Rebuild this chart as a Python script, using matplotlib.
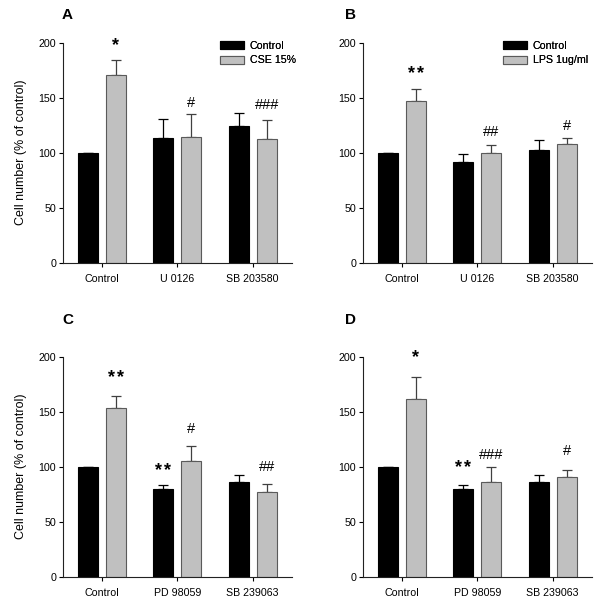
import matplotlib
matplotlib.use("Agg")
import matplotlib.pyplot as plt
import matplotlib.transforms as mtransforms
import numpy as np

plt.rcParams['font.family'] = ['Liberation Sans', 'DejaVu Sans']

# ---------------- data ----------------
groups_top = ["Control", "U 0126", "SB 203580"]
groups_bottom = ["Control", "PD 98059", "SB 239063"]

# Panel A (CSE 15%)
a_ctrl = [100, 113.5, 124.5]
a_ctrl_err = [0, 17, 12]
a_trt = [170.8, 114, 112.5]
a_trt_err = [13.5, 21, 17]
a_annot = [("*", 1, 0, 199), ("#", 1, 1, 145), ("###", 1, 2, 143)]

# Panel B (LPS 1ug/ml)
b_ctrl = [100, 92, 102.2]
b_ctrl_err = [0, 6.4, 9]
b_trt = [146.8, 99.8, 107.6]
b_trt_err = [11, 7.3, 6]
b_annot = [("**", 1, 0, 173), ("##", 1, 1, 119), ("#", 1, 2, 124.5)]

# Panel C (CSE 15%)
c_ctrl = [100, 80, 86.4]
c_ctrl_err = [0, 3, 5.8]
c_trt = [153.4, 105.2, 77.4]
c_trt_err = [11.2, 14, 7]
c_annot = [("**", 1, 0, 182), ("**", 0, 1, 97.6), ("#", 1, 1, 134), ("##", 1, 2, 100)]

# Panel D (LPS 1ug/ml)
d_ctrl = [100, 80, 86.4]
d_ctrl_err = [0, 3, 5.8]
d_trt = [161.5, 85.8, 90.7]
d_trt_err = [20.2, 14.3, 6]
d_annot = [("*", 1, 0, 200), ("**", 0, 1, 100), ("###", 1, 1, 110.3), ("#", 1, 2, 114)]

yticks = [0, 50, 100, 150, 200]
ylabel = "Cell number (% of control)"

panels = [
    ("A", groups_top, a_ctrl, a_ctrl_err, a_trt, a_trt_err, "CSE 15%", a_annot, True),
    ("B", groups_top, b_ctrl, b_ctrl_err, b_trt, b_trt_err, "LPS 1ug/ml", b_annot, False),
    ("C", groups_bottom, c_ctrl, c_ctrl_err, c_trt, c_trt_err, "CSE 15%", c_annot, True),
    ("D", groups_bottom, d_ctrl, d_ctrl_err, d_trt, d_trt_err, "LPS 1ug/ml", d_annot, False),
]

# ---------------- layout ----------------
W, H = 600, 609
fig = plt.figure(figsize=(W / 100, H / 100), dpi=100)

def fx(px):
    return px / W

def fy(py):
    return 1 - py / H

# pixel boxes: left, top(y=200), right, bottom(y=0)
boxes = [(63, 42.7, 292, 262.7), (363, 42.7, 592, 262.7),
         (63, 356.7, 292, 576.7), (363, 356.7, 592, 576.7)]

BLACK = "#000000"
GRAY = "#c0c0c0"
GRAY_EDGE = "#5a5a5a"
bw = 0.265
off = 0.1875
STAR_STEP = 9.3 * 72 / 100  # points between neighbouring stars

for (letter, cats, ctrl, ctrl_err, trt, trt_err, trt_label, annots, show_ylabel), (l, t, r, b) in zip(panels, boxes):
    ax = fig.add_axes([fx(l), fy(b), fx(r) - fx(l), fy(t) - fy(b)])
    x = np.arange(len(cats))
    ax.bar(x - off, ctrl, bw, color=BLACK, edgecolor=BLACK, linewidth=0.8, zorder=2)
    ax.bar(x + off, trt, bw, color=GRAY, edgecolor=GRAY_EDGE, linewidth=0.8, zorder=2)
    ax.errorbar(x - off, ctrl, yerr=[np.zeros(len(ctrl)), ctrl_err], fmt='none',
                ecolor=BLACK, elinewidth=0.9, capsize=3.4, capthick=0.9, zorder=1)
    ax.errorbar(x + off, trt, yerr=[np.zeros(len(trt)), trt_err], fmt='none',
                ecolor="#404040", elinewidth=0.9, capsize=3.4, capthick=0.9, zorder=1)
    ax.set_xlim(-0.513, 2.52)
    ax.set_ylim(0, 200)
    ax.set_yticks(yticks)
    ax.set_xticks(x)
    ax.set_xticklabels(cats, fontsize=7.7)
    ax.tick_params(axis='y', labelsize=7.7, length=3, width=0.8, direction='out', pad=2)
    ax.tick_params(axis='x', length=3, width=0.8, direction='out', pad=5)
    for s in ("top", "right"):
        ax.spines[s].set_visible(False)
    for s in ("left", "bottom"):
        ax.spines[s].set_linewidth(0.8)
        ax.spines[s].set_color("#222222")
    if show_ylabel:
        ax.set_ylabel(ylabel, fontsize=9, labelpad=8)

    for txt, series, gi, yv in annots:
        xpos = gi + (off if series == 1 else -off)
        if "*" in txt:
            n = len(txt)
            for i, ch in enumerate(txt):
                tr = mtransforms.offset_copy(ax.transData, fig=fig,
                                             x=(i - (n - 1) / 2) * STAR_STEP, y=-1.0,
                                             units='points')
                ax.text(xpos, yv, ch, ha='center', va='center', fontsize=13,
                        fontweight='bold', transform=tr, zorder=3)
        else:
            ax.text(xpos, yv, txt, ha='center', va='center', fontsize=10.5, zorder=3)

    # legend
    ax.legend([plt.Rectangle((0, 0), 1, 1, fc=BLACK, ec=BLACK, lw=0.8),
               plt.Rectangle((0, 0), 1, 1, fc=GRAY, ec=GRAY_EDGE, lw=0.8)],
              ["Control", trt_label], fontsize=7.7, frameon=False,
              loc='upper left', handlelength=2.25, handleheight=0.72,
              handletextpad=0.55, labelspacing=0.42, borderpad=0, borderaxespad=0,
              bbox_to_anchor=((((220 if l < 300 else 503) - l) / (r - l)), 1.0 + (t - 41) / (b - t)))

    # panel letter
    lx = 62 if l < 300 else 345
    ly = 15 if t < 300 else 320
    fig.text(fx(lx), fy(ly), letter, fontsize=11, fontweight='bold', ha='left', va='center')

fig.savefig("out.png", dpi=100)
